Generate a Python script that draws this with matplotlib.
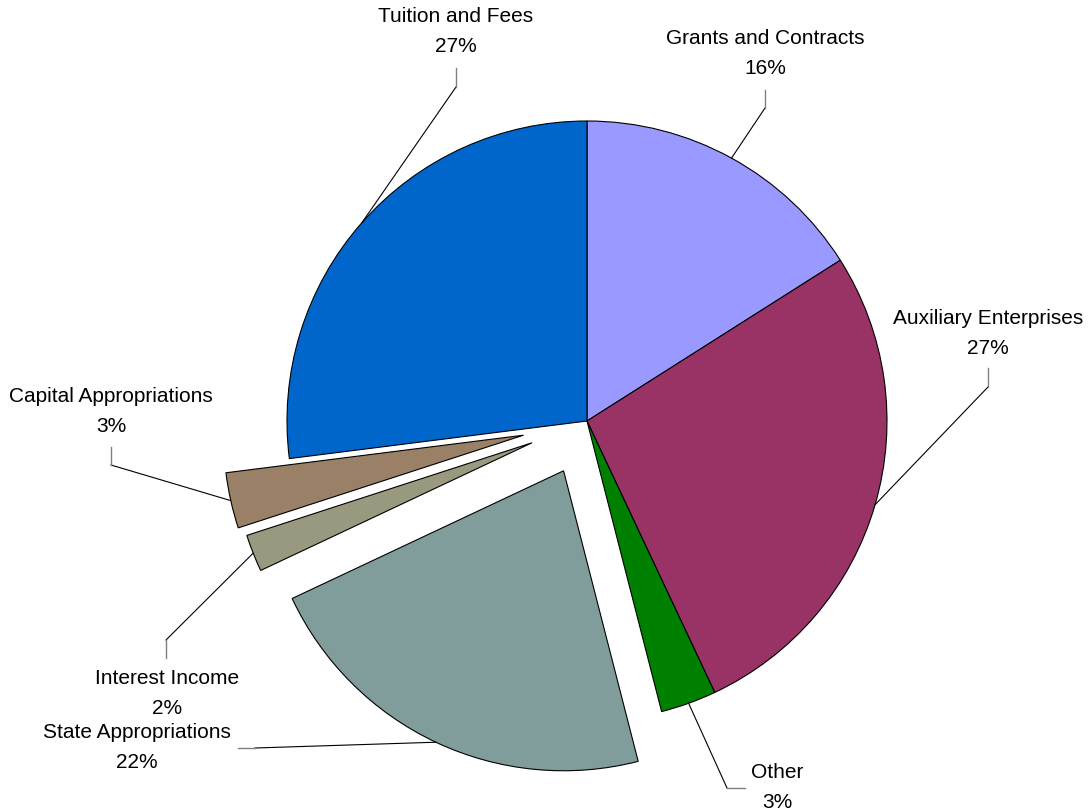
import matplotlib
matplotlib.use("Agg")
import matplotlib.pyplot as plt
import numpy as np

W, H = 1088, 811

labels = ["Grants and Contracts", "Auxiliary Enterprises", "Other",
          "State Appropriations", "Interest Income", "Capital Appropriations",
          "Tuition and Fees"]
shares = [16, 27, 3, 22, 2, 3, 27]
colors = ["#9999FF", "#993366", "#008000", "#809C9B", "#999980", "#998066", "#0066CC"]
explode = [0, 0, 0, 55, 59, 65, 0]


def px(x, y):
    # screen pixels (y down) -> data coords (y up)
    return x, H - y


# label text centre, elbow of leader line, end of short segment (screen px)
label_pos = [(765, 39), (988, 318), (777, 772), (137, 732), (167, 678), (111, 396), (456, 17)]
elbows = [(765, 108), (988, 387), (727, 788), (255, 748), (166, 640), (111, 465), (456, 87)]
ends = [(765, 90), (988, 368), (745, 788), (238, 748), (166, 658), (111, 447), (456, 68)]

fig = plt.figure(figsize=(W / 100, H / 100), dpi=100)
ax = fig.add_axes([0, 0, 1, 1])

wedges, _ = ax.pie(shares, colors=colors, explode=explode, startangle=90,
                   counterclock=False, center=px(587, 421), radius=300,
                   wedgeprops=dict(edgecolor="black", linewidth=0.8))

for w, lab, s, lp, el, en in zip(wedges, labels, shares, label_pos, elbows, ends):
    mid = np.deg2rad((w.theta1 + w.theta2) / 2)
    ax_, ay_ = w.center[0] + w.r * np.cos(mid), w.center[1] + w.r * np.sin(mid)
    ex, ey = px(*el)
    nx, ny = px(*en)
    ax.plot([ax_, ex], [ay_, ey], color="black", lw=0.8)
    ax.plot([ex, nx], [ey, ny], color="#808080", lw=1.0)
    tx, ty = px(*lp)
    ax.text(tx, ty, lab, ha="center", va="center", fontsize=15, family="Liberation Sans")
    ax.text(tx, ty - 30, f"{s}%", ha="center", va="center", fontsize=15, family="Liberation Sans")

ax.set_xlim(0, W)
ax.set_ylim(0, H)
ax.axis("off")

fig.savefig("out.png", dpi=100)
